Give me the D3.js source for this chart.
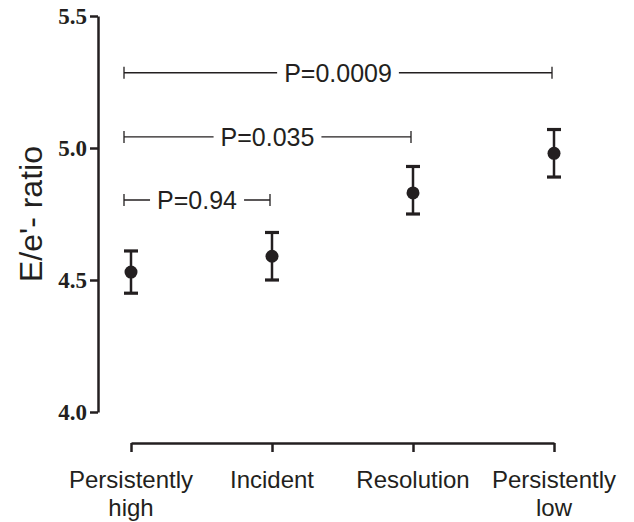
<!DOCTYPE html>
<html>
<head>
<meta charset="utf-8">
<script src="https://cdn.jsdelivr.net/npm/d3@7"></script>
<style>
  body { margin: 0; background: #fff; }
  svg { display: block; }
</style>
</head>
<body>
<svg id="chart" width="634" height="522"></svg>
<script>
// groups along the x axis (two-line labels split on \n)
const groups = ['Persistently\nhigh', 'Incident', 'Resolution', 'Persistently\nlow']
const means = [4.53, 4.59, 4.83, 4.98]
const upper = [4.61, 4.68, 4.93, 5.07]
const lower = [4.45, 4.50, 4.75, 4.89]

const yTicks = [4.0, 4.5, 5.0, 5.5]

// comparison brackets: index of first and last group, height in data units, label
const bracketFrom = [0, 0, 0]
const bracketTo = [1, 2, 3]
const bracketLevel = [4.803, 5.042, 5.285]
const bracketText = ['P=0.94', 'P=0.035', 'P=0.0009']

const ink = '#231f20'
const sans = '"Liberation Sans", Arial, Helvetica, sans-serif'

const svg = d3.select('#chart')

const x = d3.scalePoint()
    .domain(groups)
    .range([131, 554])

const y = d3.scaleLinear()
    .domain([4.0, 5.5])
    .range([412, 16])

// y axis
const yAxis = d3.axisLeft(y)
    .tickValues(yTicks)
    .tickFormat(d3.format('.1f'))
    .tickSize(8)
    .tickSizeOuter(0)
    .tickPadding(3)

const gy = svg.append('g')
    .attr('transform', 'translate(98,0)')
    .call(yAxis)
gy.selectAll('path, line').attr('stroke', ink).attr('stroke-width', 2.5)
gy.selectAll('text')
    .attr('fill', ink)
    .style('font-family', '"Liberation Serif", "Times New Roman", serif')
    .style('font-weight', 'bold')
    .style('font-size', '23px')

// x axis (offset, Prism style)
const xAxis = d3.axisBottom(x)
    .tickSize(9)
    .tickSizeOuter(0)
    .tickFormat('')

const gx = svg.append('g')
    .attr('transform', 'translate(0,443)')
    .call(xAxis)
gx.selectAll('path, line').attr('stroke', ink).attr('stroke-width', 2.5)

// x labels
groups.forEach(g => {
    const t = svg.append('text')
        .attr('x', x(g))
        .attr('y', 488)
        .attr('text-anchor', 'middle')
        .attr('fill', ink)
        .style('font-family', sans)
        .style('font-size', '24px')
    g.split('\n').forEach((part, i) => {
        t.append('tspan')
            .attr('x', x(g))
            .attr('dy', i === 0 ? 0 : 28)
            .text(part)
    })
})

// y axis title
svg.append('text')
    .attr('transform', `translate(42,${(y(4.5) + y(5.0)) / 2})` + ' rotate(-90)')
    .attr('text-anchor', 'middle')
    .attr('fill', ink)
    .style('font-family', sans)
    .style('font-size', '32px')
    .text("E/e'- ratio")

// error bars
const capW = 7
groups.forEach((g, i) => {
    const cx = x(g)
    svg.append('line')
        .attr('x1', cx).attr('x2', cx)
        .attr('y1', y(upper[i])).attr('y2', y(lower[i]))
        .attr('stroke', ink).attr('stroke-width', 2.5)
    ;[upper[i], lower[i]].forEach(v => {
        svg.append('line')
            .attr('x1', cx - capW).attr('x2', cx + capW)
            .attr('y1', y(v)).attr('y2', y(v))
            .attr('stroke', ink).attr('stroke-width', 3.2)
    })
    svg.append('circle')
        .attr('cx', cx)
        .attr('cy', y(means[i]))
        .attr('r', 6.5)
        .attr('fill', ink)
})

// significance brackets
bracketText.forEach((label, i) => {
    const x1 = x(groups[bracketFrom[i]]) - 7
    const x2 = x(groups[bracketTo[i]]) - 2
    const yy = y(bracketLevel[i])
    const b = svg.append('g')
    b.append('line')
        .attr('x1', x1).attr('x2', x2)
        .attr('y1', yy).attr('y2', yy)
        .attr('stroke', ink).attr('stroke-width', 1.3)
    ;[x1, x2].forEach(xe => {
        b.append('line')
            .attr('x1', xe).attr('x2', xe)
            .attr('y1', yy - 6).attr('y2', yy + 6)
            .attr('stroke', ink).attr('stroke-width', 1.3)
    })
    const t = b.append('text')
        .attr('x', (x1 + x2) / 2)
        .attr('y', yy)
        .attr('dy', '0.36em')
        .attr('text-anchor', 'middle')
        .attr('fill', ink)
        .style('font-family', sans)
        .style('font-size', '25px')
        .text(label)
    const bb = t.node().getBBox()
    b.insert('rect', 'text')
        .attr('x', bb.x - 7)
        .attr('y', yy - 3)
        .attr('width', bb.width + 14)
        .attr('height', 6)
        .attr('fill', '#fff')
})
</script>
</body>
</html>
